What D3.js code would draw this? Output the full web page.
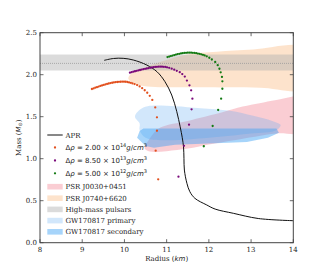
<!DOCTYPE html>
<html>
<head>
<meta charset="utf-8">
<script src="https://cdn.jsdelivr.net/npm/d3@7"></script>
<style>
  html, body { margin: 0; padding: 0; background: #fff; }
  svg { display: block; }
</style>
</head>
<body>
<div id="chart"></div>
<script>
// axis ticks
const radiusTicks = [8, 9, 10, 11, 12, 13, 14];
const massTicks = [0.0, 0.5, 1.0, 1.5, 2.0, 2.5];

// APR equation of state, [radius km, mass Msun]
const aprCurve = [
  [9.52, 2.171], [9.74, 2.193], [9.97, 2.195], [10.21, 2.175], [10.53, 2.115],
  [10.77, 2.036], [10.96, 1.917], [11.12, 1.758], [11.24, 1.56], [11.32, 1.38],
  [11.37, 1.25], [11.40, 1.14], [11.41, 1.00], [11.42, 0.865], [11.48, 0.707],
  [11.55, 0.607], [11.67, 0.528], [11.95, 0.449], [12.15, 0.400], [12.58, 0.350],
  [13.17, 0.288], [14.0, 0.262]
];

// phase transition sequences
const dots2e14 = [
  [9.23, 1.830], [9.27, 1.837], [9.31, 1.845], [9.35, 1.852], [9.39, 1.859],
  [9.43, 1.866], [9.47, 1.872], [9.51, 1.878], [9.55, 1.884], [9.59, 1.890],
  [9.63, 1.895], [9.67, 1.900], [9.71, 1.904], [9.75, 1.908], [9.79, 1.911],
  [9.83, 1.913], [9.87, 1.915], [9.91, 1.916], [9.95, 1.917], [9.99, 1.917],
  [10.03, 1.916], [10.07, 1.913], [10.11, 1.908], [10.15, 1.903], [10.19, 1.896],
  [10.24, 1.888], [10.30, 1.876], [10.36, 1.860], [10.42, 1.840], [10.48, 1.815],
  [10.54, 1.785], [10.60, 1.748], [10.66, 1.700], [10.73, 1.610], [10.77, 1.493],
  [10.77, 1.333], [10.74, 1.095], [10.80, 0.755]
];
const dots85e13 = [
  [10.13, 2.024], [10.17, 2.030], [10.21, 2.036], [10.25, 2.041], [10.29, 2.046],
  [10.33, 2.051], [10.37, 2.056], [10.41, 2.061], [10.45, 2.066], [10.49, 2.070],
  [10.53, 2.074], [10.57, 2.078], [10.61, 2.082], [10.65, 2.086], [10.69, 2.089],
  [10.73, 2.092], [10.77, 2.094], [10.81, 2.095], [10.85, 2.095], [10.89, 2.095],
  [10.93, 2.094], [10.97, 2.092], [11.01, 2.088], [11.06, 2.082], [11.12, 2.072],
  [11.18, 2.060], [11.24, 2.046], [11.31, 2.030], [11.37, 2.008], [11.43, 1.978],
  [11.48, 1.930], [11.54, 1.873], [11.58, 1.814], [11.61, 1.714], [11.59, 1.588],
  [11.53, 1.405], [11.41, 1.153], [11.28, 0.786]
];
const dots5e12 = [
  [11.02, 2.210], [11.06, 2.216], [11.10, 2.222], [11.14, 2.228], [11.18, 2.234],
  [11.22, 2.240], [11.26, 2.245], [11.30, 2.249], [11.34, 2.253], [11.38, 2.256],
  [11.42, 2.259], [11.46, 2.261], [11.50, 2.262], [11.54, 2.262], [11.58, 2.262],
  [11.62, 2.261], [11.66, 2.259], [11.70, 2.256], [11.74, 2.252], [11.78, 2.248],
  [11.82, 2.243], [11.86, 2.237], [11.90, 2.229], [11.95, 2.219], [12.01, 2.202],
  [12.07, 2.181], [12.15, 2.151], [12.21, 2.113], [12.25, 2.071], [12.28, 2.028],
  [12.31, 1.973], [12.32, 1.921], [12.32, 1.833], [12.29, 1.714], [12.22, 1.580],
  [12.09, 1.389], [11.88, 1.148]
];

// observational constraints
const highMassBand = [2.05, 2.24];
const highMassMean = 2.135;
const j0740Region = [
  [10.09, 1.957], [10.21, 2.036], [10.53, 2.095], [11.0, 2.175], [11.48, 2.240],
  [12.19, 2.274], [13.05, 2.300], [14.3, 2.315], [14.3, 1.838], [13.21, 1.845],
  [11.79, 1.850], [10.84, 1.852], [10.45, 1.865], [10.21, 1.897]
];
const j0030Region = [
  [10.48, 1.12], [10.6, 1.24], [10.85, 1.37], [11.5, 1.45], [12.3, 1.55],
  [12.8, 1.62], [13.2, 1.66], [13.6, 1.70], [14.3, 1.73], [14.3, 1.32],
  [13.6, 1.30], [12.6, 1.22], [12.0, 1.17], [11.5, 1.12], [11.0, 1.09], [10.6, 1.085]
];
const gwPrimary = [
  [10.25, 1.50], [10.37, 1.585], [10.55, 1.625], [11.2, 1.625], [11.8, 1.60],
  [12.5, 1.57], [13.05, 1.51], [13.5, 1.45], [13.7, 1.40], [13.6, 1.34],
  [13.0, 1.30], [12.0, 1.25], [11.0, 1.22], [10.5, 1.25], [10.36, 1.34], [10.36, 1.42]
];
const gwSecondary = [
  [10.45, 1.36], [13.6, 1.36], [13.66, 1.31], [13.4, 1.25], [12.9, 1.20],
  [12.0, 1.18], [11.2, 1.165], [10.7, 1.13], [10.5, 1.15], [10.3, 1.25], [10.36, 1.33]
];

const legendLabels = ["APR", "PSR J0030+0451", "PSR J0740+6620", "High-mass pulsars",
  "GW170817 primary", "GW170817 secondary"];
const densityMantissa = ["2.00", "8.50", "5.00"];
const densityExponent = ["14", "13", "12"];

const width = 327, height = 273;
const margin = { left: 40, right: 33.7, top: 32.7, bottom: 30.3 };
const serif = "'DejaVu Serif', serif";
const sans = "'DejaVu Sans', sans-serif";

const x = d3.scaleLinear().domain([8, 14]).range([margin.left, width - margin.right]);
const y = d3.scaleLinear().domain([0, 2.5]).range([height - margin.bottom, margin.top]);

const svg = d3.select("#chart").append("svg")
  .attr("width", width).attr("height", height)
  .attr("viewBox", [0, 0, width, height]);

svg.append("clipPath").attr("id", "plot-clip")
  .append("rect")
  .attr("x", x(8)).attr("y", y(2.5))
  .attr("width", x(14) - x(8)).attr("height", y(0) - y(2.5));

const plot = svg.append("g").attr("clip-path", "url(#plot-clip)");

// smooth closed outline for the contour blobs
const blob = d3.line().x(d => x(d[0])).y(d => y(d[1])).curve(d3.curveCatmullRomClosed.alpha(0.5));
const poly = d3.line().x(d => x(d[0])).y(d => y(d[1])).curve(d3.curveLinearClosed);

const styles = {
  j0030: { fill: "#f07080", op: 0.35 },
  j0740: { fill: "#fab97f", op: 0.4 },
  high: { fill: "#b0b0b0", op: 0.45 },
  prim: { fill: "#5fa8f0", op: 0.28 },
  sec: { fill: "#3aa0f5", op: 0.45 }
};

plot.append("path").attr("d", blob(j0740Region))
  .attr("fill", styles.j0740.fill).attr("fill-opacity", styles.j0740.op);

plot.append("rect")
  .attr("x", x(8)).attr("width", x(14) - x(8))
  .attr("y", y(highMassBand[1])).attr("height", y(highMassBand[0]) - y(highMassBand[1]))
  .attr("fill", styles.high.fill).attr("fill-opacity", styles.high.op);

plot.append("line")
  .attr("x1", x(8)).attr("x2", x(14))
  .attr("y1", y(highMassMean)).attr("y2", y(highMassMean))
  .attr("stroke", "#999").attr("stroke-width", 0.8).attr("stroke-dasharray", "1,1");

plot.append("path").attr("d", blob(j0030Region))
  .attr("fill", styles.j0030.fill).attr("fill-opacity", styles.j0030.op);

plot.append("path").attr("d", blob(gwPrimary))
  .attr("fill", styles.prim.fill).attr("fill-opacity", styles.prim.op);

plot.append("path").attr("d", poly(gwSecondary))
  .attr("fill", styles.sec.fill).attr("fill-opacity", styles.sec.op);

// APR curve
plot.append("path")
  .attr("d", d3.line().x(d => x(d[0])).y(d => y(d[1])).curve(d3.curveCatmullRom)(aprCurve))
  .attr("fill", "none").attr("stroke", "#111").attr("stroke-width", 1);

const dotSets = [
  { data: dots2e14, color: "#e2501e" },
  { data: dots85e13, color: "#7a0a7a" },
  { data: dots5e12, color: "#137a13" }
];
dotSets.forEach(s => {
  plot.append("g").selectAll("circle").data(s.data).join("circle")
    .attr("cx", d => x(d[0])).attr("cy", d => y(d[1]))
    .attr("r", 1.15).attr("fill", s.color);
});

// frame and inward ticks on all four sides
svg.append("rect")
  .attr("x", x(8)).attr("y", y(2.5))
  .attr("width", x(14) - x(8)).attr("height", y(0) - y(2.5))
  .attr("fill", "none").attr("stroke", "#444").attr("stroke-width", 1);

const tickLen = 3.5;
const axisG = svg.append("g").attr("stroke", "#444").attr("stroke-width", 0.8);
radiusTicks.forEach(t => {
  axisG.append("line").attr("x1", x(t)).attr("x2", x(t)).attr("y1", y(0)).attr("y2", y(0) - tickLen);
  axisG.append("line").attr("x1", x(t)).attr("x2", x(t)).attr("y1", y(2.5)).attr("y2", y(2.5) + tickLen);
});
massTicks.forEach(t => {
  axisG.append("line").attr("x1", x(8)).attr("x2", x(8) + tickLen).attr("y1", y(t)).attr("y2", y(t));
  axisG.append("line").attr("x1", x(14)).attr("x2", x(14) - tickLen).attr("y1", y(t)).attr("y2", y(t));
});

svg.append("g").selectAll("text").data(radiusTicks).join("text")
  .attr("x", d => x(d)).attr("y", y(0) + 9.5)
  .attr("text-anchor", "middle")
  .attr("font-family", serif).attr("font-size", 7).attr("fill", "#222")
  .text(d => d);

svg.append("g").selectAll("text").data(massTicks).join("text")
  .attr("x", x(8) - 3).attr("y", d => y(d) + 2.5)
  .attr("text-anchor", "end")
  .attr("font-family", serif).attr("font-size", 7).attr("fill", "#222")
  .text(d => d.toFixed(1));

// axis labels
const xl = svg.append("text")
  .attr("x", (x(8) + x(14)) / 2).attr("y", 261)
  .attr("text-anchor", "middle")
  .attr("font-family", serif).attr("font-size", 7).attr("fill", "#222");
xl.append("tspan").text("Radius (");
xl.append("tspan").attr("font-family", sans).attr("font-style", "italic").text("km");
xl.append("tspan").text(")");

const yl = svg.append("text")
  .attr("transform", `translate(20.5, ${(y(0) + y(2.5)) / 2}) rotate(-90)`)
  .attr("text-anchor", "middle")
  .attr("font-family", serif).attr("font-size", 7).attr("fill", "#222");
yl.append("tspan").text("Mass (");
yl.append("tspan").attr("font-family", sans).attr("font-style", "italic").text("M");
yl.append("tspan").attr("font-family", sans).attr("font-size", 5).attr("dy", 1.5).text("⊙");
yl.append("tspan").attr("dy", -1.5).text(")");

// legend
const lg = svg.append("g");
const hx0 = 47.3, hx1 = 62.7, tx = 65.5;

lg.append("line").attr("x1", hx0).attr("x2", hx1).attr("y1", 135).attr("y2", 135)
  .attr("stroke", "#111").attr("stroke-width", 1);
lg.append("text").attr("x", tx).attr("y", 137.5)
  .attr("font-family", serif).attr("font-size", 7).attr("fill", "#222").text(legendLabels[0]);

const dotRows = [147.5, 160.5, 173.3];
dotSets.forEach((s, i) => {
  lg.append("circle").attr("cx", (hx0 + hx1) / 2).attr("cy", dotRows[i]).attr("r", 1.15).attr("fill", s.color);
  const t = lg.append("text").attr("x", tx).attr("y", dotRows[i] + 2.5)
    .attr("font-family", sans).attr("font-size", 7).attr("fill", "#222");
  t.append("tspan").text("Δ");
  t.append("tspan").attr("font-style", "italic").text("ρ");
  t.append("tspan").text(` = ${densityMantissa[i]} × 10`);
  t.append("tspan").attr("font-size", 5).attr("dy", -3).text(densityExponent[i]);
  t.append("tspan").attr("font-style", "italic").attr("dy", 3).text("g");
  t.append("tspan").text("/");
  t.append("tspan").attr("font-style", "italic").text("cm");
  t.append("tspan").attr("font-size", 5).attr("dy", -3).text("3");
});

const patchRows = [186.7, 198.2, 209.4, 220.6, 231.8];
const patchStyles = [styles.j0030, styles.j0740, styles.high, styles.prim, styles.sec];
patchStyles.forEach((s, i) => {
  lg.append("rect").attr("x", hx0).attr("y", patchRows[i] - 2.8)
    .attr("width", hx1 - hx0).attr("height", 5.6)
    .attr("fill", s.fill).attr("fill-opacity", s.op);
  lg.append("text").attr("x", tx).attr("y", patchRows[i] + 2.5)
    .attr("font-family", serif).attr("font-size", 7).attr("fill", "#222")
    .text(legendLabels[i + 1]);
});
</script>
</body>
</html>
